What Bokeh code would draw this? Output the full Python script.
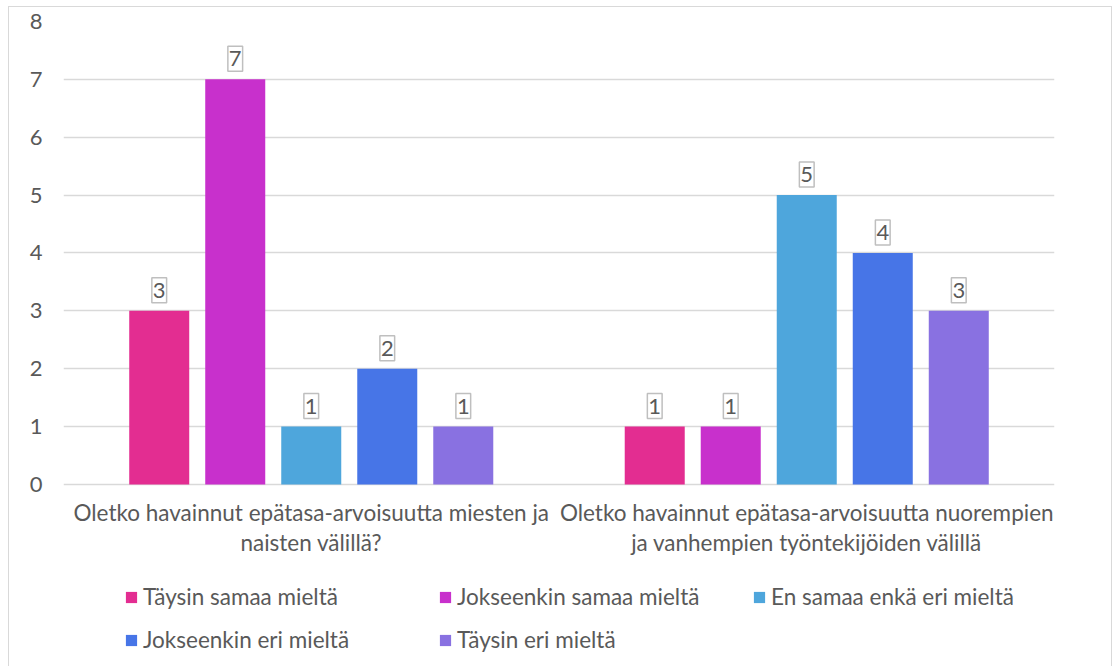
from bokeh.plotting import figure
from bokeh.models import ColumnDataSource, FactorRange, Range1d, Legend, LegendItem, FixedTicker
from bokeh.transform import dodge
from bokeh.core.properties import value
from bokeh.embed import file_html
from bokeh.resources import INLINE

# ---- data ----
categories = [
    "Oletko havainnut epätasa-arvoisuutta miesten ja\nnaisten välillä?",
    "Oletko havainnut epätasa-arvoisuutta nuorempien\nja vanhempien työntekijöiden välillä",
]
series_names = [
    "Täysin samaa mieltä",
    "Jokseenkin samaa mieltä",
    "En samaa enkä eri mieltä",
    "Jokseenkin eri mieltä",
    "Täysin eri mieltä",
]
taysin_samaa = [3, 1]
jokseenkin_samaa = [7, 1]
en_samaa_enka_eri = [1, 5]
jokseenkin_eri = [2, 4]
taysin_eri = [1, 3]
y_ticks = [0, 1, 2, 3, 4, 5, 6, 7, 8]

series_values = [taysin_samaa, jokseenkin_samaa, en_samaa_enka_eri, jokseenkin_eri, taysin_eri]
colors = ["#E32D91", "#C830CC", "#4EA6DC", "#4775E7", "#8971E1"]

FONT = "Lato"
FS = "22.5px"
TEXT_COLOR = "#595959"
GRID = "#D9D9D9"

# value axis 0..8 occupies the upper part of the frame; the lower part holds
# the category labels (axis pinned at y = 0) and the legend
p = figure(
    x_range=FactorRange(*categories),
    y_range=Range1d(-3.162, 8),
    width=1104, height=660,
    output_backend="svg", toolbar_location=None,
    min_border_left=54, min_border_right=59, min_border_top=14, min_border_bottom=0,
    outline_line_color=None, background_fill_color="white", border_fill_color="white",
)
p.styles = {
    "margin-left": "8px",
    "margin-top": "6px",
    "border-top": "1px solid #D9D9D9",
    "border-left": "1px solid #D9D9D9",
    "border-right": "1px solid #D9D9D9",
}

bar_w = 0.1211
step = 0.1534
items = []
for i, (name, vals, col) in enumerate(zip(series_names, series_values, colors)):
    src = ColumnDataSource(dict(cat=categories, val=vals, lbl=[str(v) for v in vals]))
    off = (i - 2) * step
    r = p.vbar(x=dodge("cat", off, range=p.x_range), top="val", width=bar_w, source=src,
               fill_color=col, line_color=None)
    p.text(x=dodge("cat", off, range=p.x_range), y="val", text="lbl", source=src,
           y_offset=-8, text_align="center", text_baseline="bottom",
           text_font=value(FONT), text_font_size="22px", text_color=TEXT_COLOR,
           border_line_color="#BFBFBF", border_line_width=1.5, padding=(1, 5),
           background_fill_color="white")
    items.append(LegendItem(label=name, renderers=[r]))

# axes
p.yaxis.ticker = FixedTicker(ticks=y_ticks)
p.yaxis.axis_line_color = None
p.yaxis.major_tick_line_color = None
p.yaxis.minor_tick_line_color = None
p.yaxis.major_label_standoff = 15
p.yaxis.major_label_text_font = FONT
p.yaxis.major_label_text_font_size = "22px"
p.yaxis.major_label_text_color = TEXT_COLOR

p.xaxis.fixed_location = 0
p.xaxis.axis_line_color = None
p.xaxis.major_tick_line_color = None
p.xaxis.major_label_standoff = 9
p.xaxis.major_label_text_font = FONT
p.xaxis.major_label_text_font_size = FS
p.xaxis.major_label_text_color = TEXT_COLOR
p.xaxis.major_label_text_line_height = 1.10

p.xgrid.grid_line_color = None
p.ygrid.grid_line_color = GRID
p.ygrid.grid_line_width = 1.5

legend = Legend(
    items=items, orientation="horizontal", ncols=3,
    location=(61, 14),
    glyph_width=14, glyph_height=14, label_standoff=5, label_width=279, label_height=24,
    spacing=16, padding=0, margin=0,
    label_text_font=FONT, label_text_font_size=FS, label_text_color=TEXT_COLOR,
    border_line_color=None, background_fill_color=None,
)
p.add_layout(legend, "center")

open("out.html", "w").write(file_html(p, INLINE))
